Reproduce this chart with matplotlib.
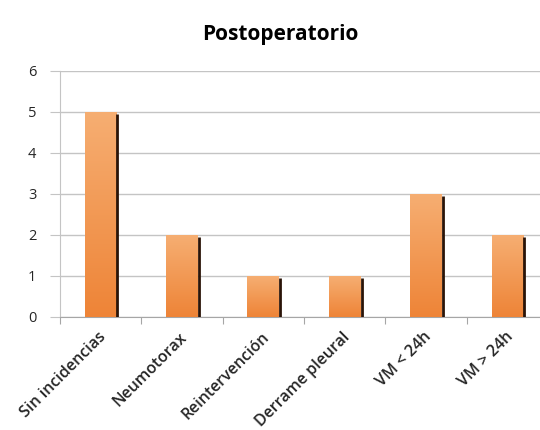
import numpy as np
import matplotlib.pyplot as plt
from matplotlib.colors import LinearSegmentedColormap

plt.rcParams['font.family'] = ['Open Sans', 'DejaVu Sans']

categorias = ['Sin incidencias', 'Neumotorax', 'Reintervención',
              'Derrame pleural', 'VM < 24h', 'VM > 24h']
valores = [5, 2, 1, 1, 3, 2]
yticks = [0, 1, 2, 3, 4, 5, 6]

fig = plt.figure(figsize=(5.4, 4.3), dpi=100)
# el eje continua un poco mas alla del borde derecho (imagen recortada)
ax = fig.add_axes([0.111, 0.2635, 0.904, 0.572])

x = np.arange(len(categorias))
ancho = 0.39
barras = ax.bar(x, valores, width=ancho, color='none', edgecolor='none', zorder=3)

# degradado naranja en cada barra
cmap = LinearSegmentedColormap.from_list('naranja', ['#ee8437', '#f6ae72'])
grad = np.linspace(0, 1, 256).reshape(-1, 1)
for b in barras:
    x0, w, h = b.get_x(), b.get_width(), b.get_height()
    im = ax.imshow(grad, cmap=cmap, origin='lower', aspect='auto',
                   extent=[x0, x0 + w, 0, h], zorder=3)
    im.set_clip_path(b)
    # sombra oscura en el borde derecho
    ax.vlines(x0 + w + 0.012, 0, h - 0.06, color='#2a1408', lw=2.0, zorder=4)

ax.set_xlim(-0.5, len(categorias) - 0.5)
ax.set_ylim(0, 6)
ax.set_yticks(yticks)
ax.yaxis.grid(True, color='#c4c4c4', lw=1)
ax.set_axisbelow(True)
for s in ['top', 'right']:
    ax.spines[s].set_visible(False)
ax.spines['bottom'].set_color('#a6a6a6')
ax.spines['left'].set_color('#c4c4c4')
ax.tick_params(axis='y', length=7, color='#c4c4c4', labelsize=10.5,
               labelcolor='#262626', pad=10)

# marcas entre categorias
ax.set_xticks(np.arange(len(categorias) + 1) - 0.5)
ax.set_xticklabels([])
ax.tick_params(axis='x', length=5, color='#a6a6a6', direction='out')
for i, c in enumerate(categorias):
    ax.text(i - 0.03, -0.3, c, rotation=45, ha='right', va='top',
            rotation_mode='anchor', fontsize=11.5, fontweight='semibold',
            color='#262626')

fig.suptitle('Postoperatorio', x=0.52, y=0.945, fontsize=15, fontweight='bold')

fig.savefig('out.png', dpi=100)
